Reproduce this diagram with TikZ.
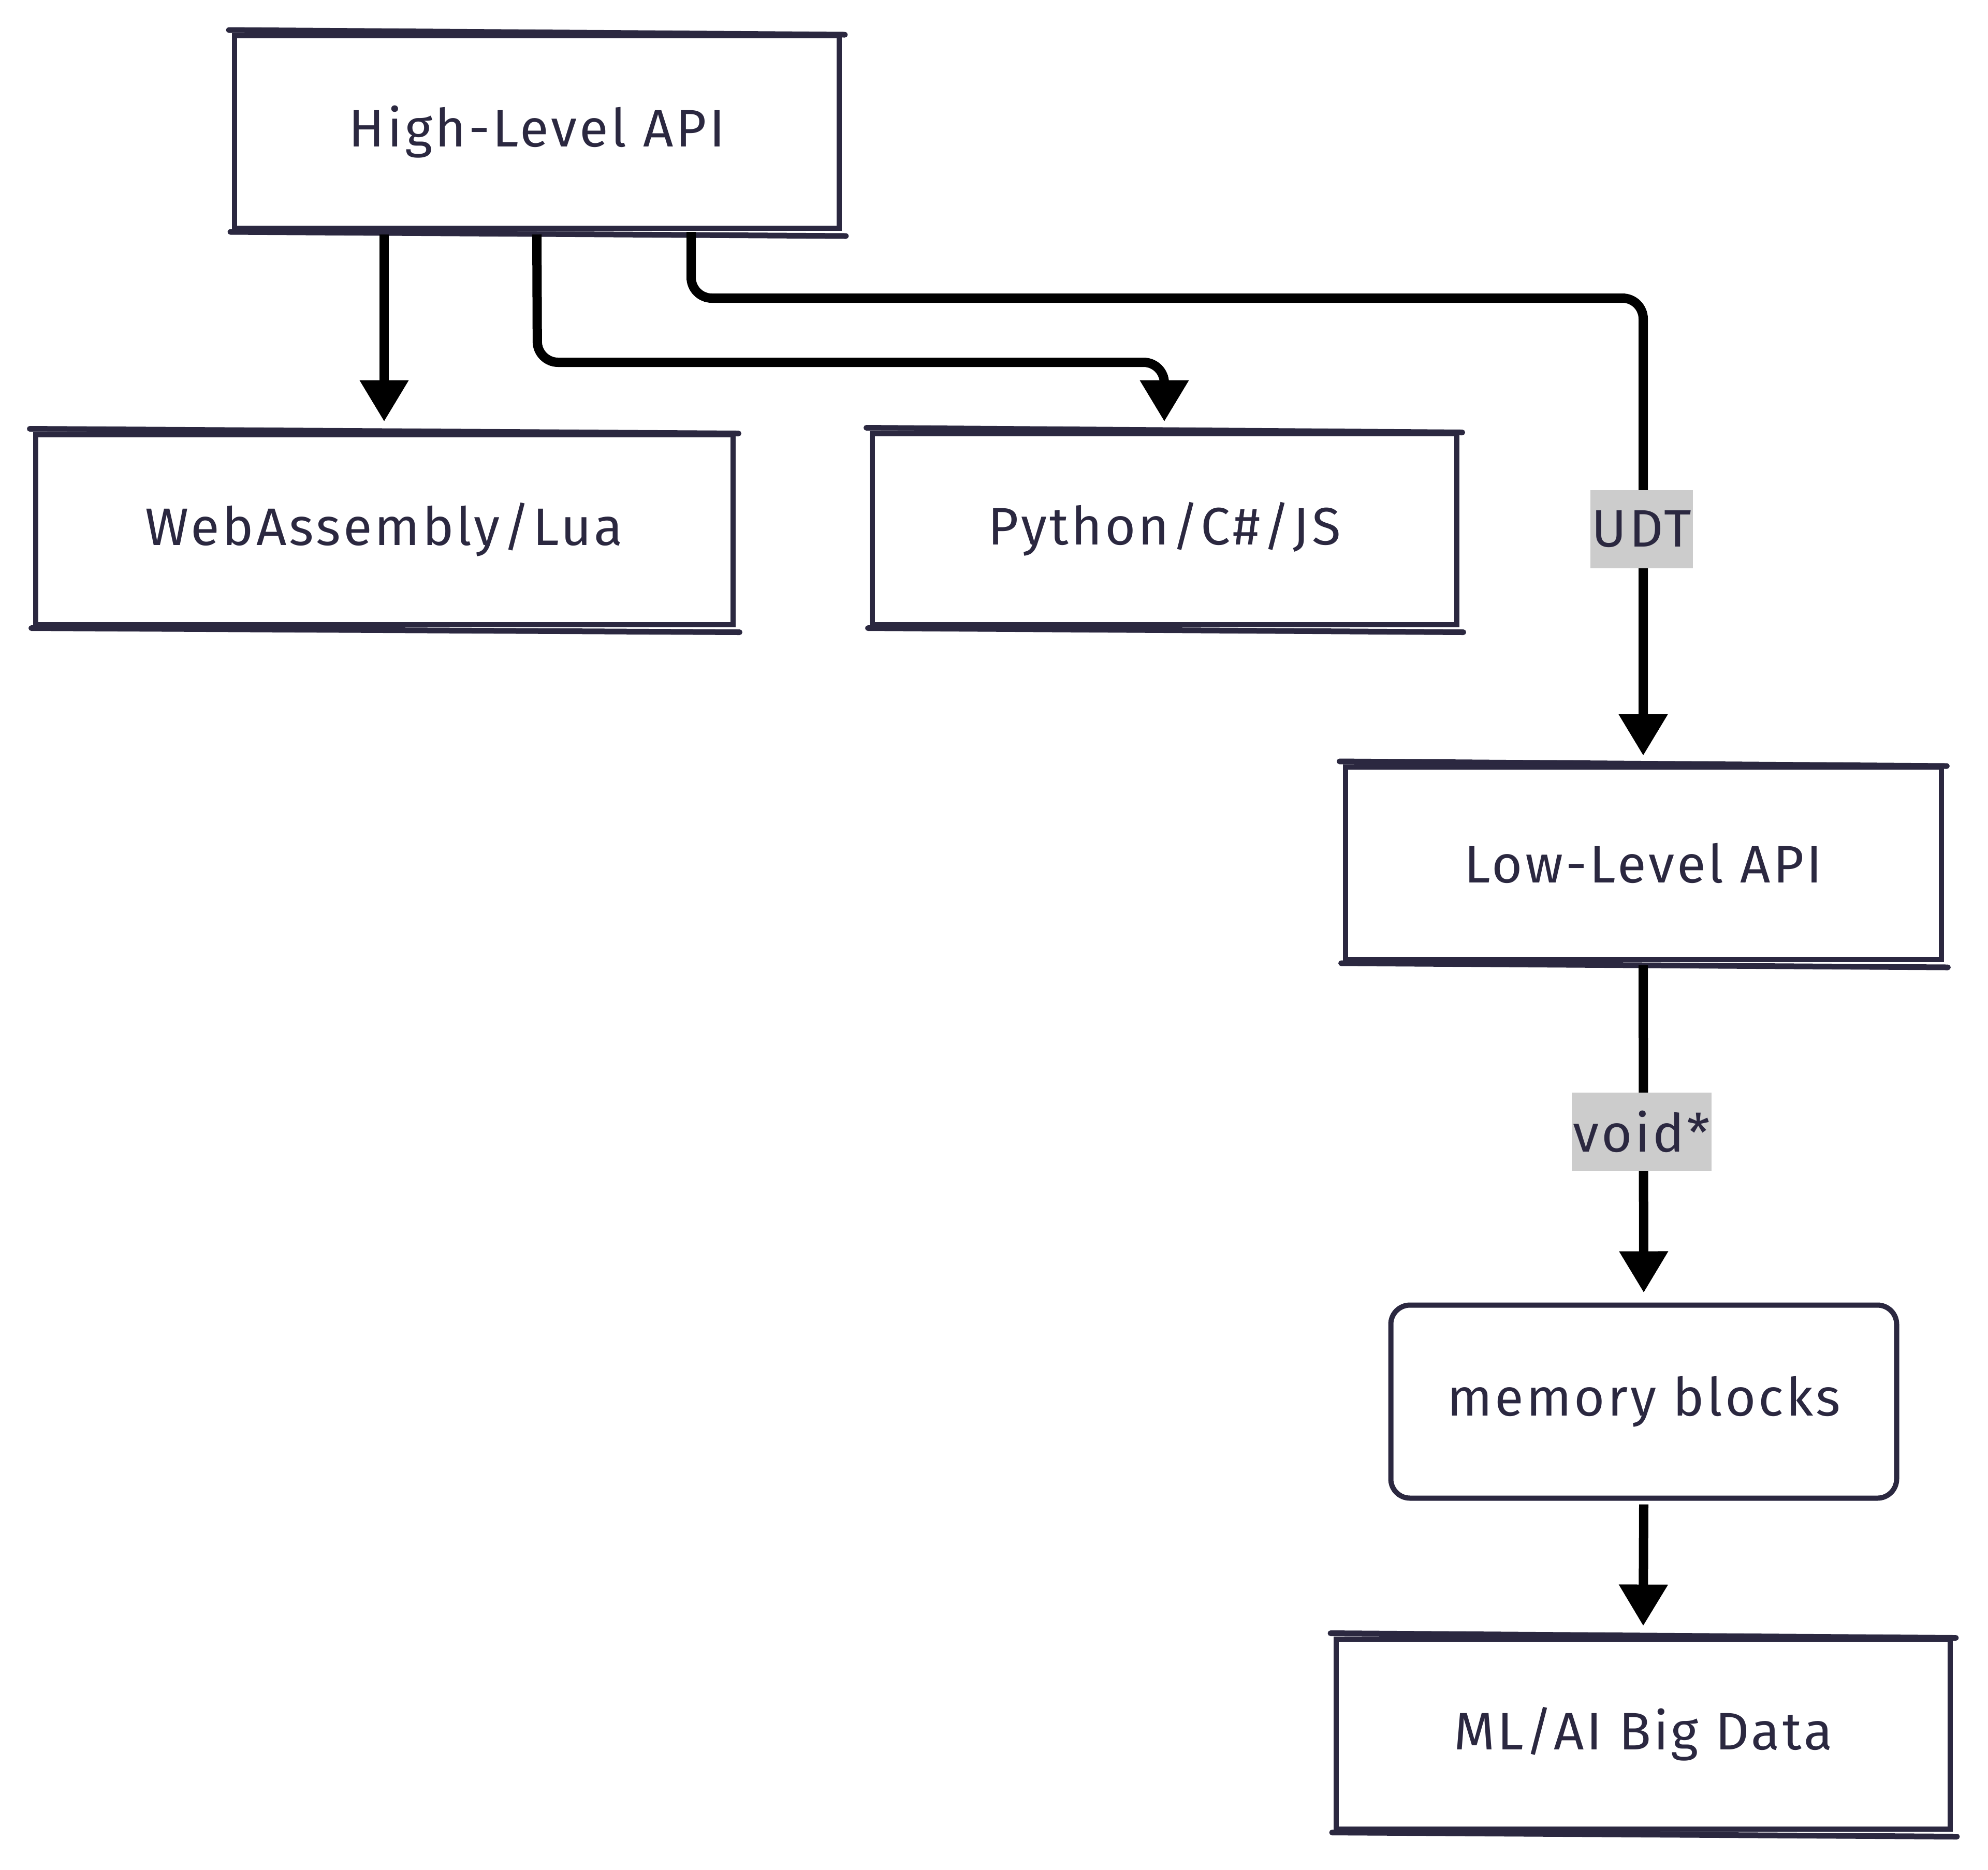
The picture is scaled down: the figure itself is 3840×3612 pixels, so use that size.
\documentclass[tikz,border=0pt]{standalone}
\usepackage{fontspec}
\setmainfont{Fira Sans}[LetterSpace=5]
\usetikzlibrary{arrows.meta}
\definecolor{ink}{HTML}{2B2840}
\definecolor{lblgray}{HTML}{CCCCCC}
\tikzset{
  box/.style={draw=ink, line width=1mm, text=ink, font=\fontsize{29}{34}\selectfont, inner sep=0pt, anchor=center},
  edgeline/.style={draw=ink, line width=1.1mm, line cap=round},
  conn/.style={draw=black, line width=1.8mm, rounded corners=4mm, -{Triangle[width=9mm,length=8mm]}},
  lbl/.style={fill=lblgray, text=ink, font=\fontsize{29}{34}\selectfont, inner xsep=0.3mm, inner ysep=0pt, minimum height=15.1mm}
}
\newcommand{\sketchbox}[1]{%
  \draw[edgeline] ([xshift=-0.6mm,yshift=0.6mm]#1.north west) -- ([xshift=0.6mm,yshift=-0.3mm]#1.north east);
  \draw[edgeline] ([xshift=-0.3mm,yshift=-0.2mm]#1.south west) -- ([xshift=0.8mm,yshift=-1mm]#1.south east);
}
\begin{document}
\begin{tikzpicture}[x=0.1mm,y=-0.1mm]
\useasboundingbox (0,0) rectangle (3840,3612);
\node[box, minimum width=116.8mm, minimum height=37.2mm] (hl) at (1037,255) {High-Level API};
\node[box, minimum width=134.7mm, minimum height=36.7mm] (wa) at (742,1023) {WebAssembly/Lua};
\node[box, minimum width=112.9mm, minimum height=36.9mm] (py) at (2249,1022) {Python/C\#/JS};
\node[box, minimum width=115.1mm, minimum height=37.2mm] (ll) at (3174,1668) {Low-Level API};
\node[box, rounded corners=3.7mm, minimum width=97.7mm, minimum height=37.3mm] (mb) at (3175,2708) {memory blocks};
\node[box, minimum width=118.6mm, minimum height=36.7mm] (ml) at (3174,3350) {ML/AI Big Data};
\sketchbox{hl}
\sketchbox{wa}
\sketchbox{py}
\sketchbox{ll}
\sketchbox{ml}
\coordinate (j2a) at (1038,700);
\coordinate (j2b) at (2249,700);
\coordinate (s3) at (1335,448);
\coordinate (j3a) at (1335,576);
\coordinate (j3b) at (3174,576);
\draw[conn] ([yshift=-0.7mm]hl.south -| wa.north) -- ([yshift=2mm]wa.north);
\draw[conn] ([yshift=-0.7mm]hl.south) -- (j2a) -- (j2b) -- ([yshift=1.8mm]py.north);
\draw[conn] (s3) -- (j3a) -- (j3b) -- ([yshift=1.7mm]ll.north);
\draw[conn] ([yshift=-0.6mm]ll.south) -- ([yshift=1.9mm]mb.north);
\draw[conn] ([yshift=-0.7mm]mb.south) -- ([yshift=2mm]ml.north);
\node[lbl] (udt) at (3171,1022) {UDT};
\node[lbl] (vp) at (3171,2186) {void*};
\end{tikzpicture}
\end{document}
